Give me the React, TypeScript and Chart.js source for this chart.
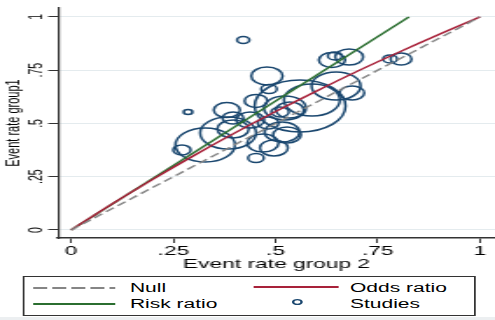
import React, { useEffect, useRef } from "react";
import { Chart, registerables } from "chart.js";

Chart.register(...registerables);

// ---- data ----
const tickValues = [0, 0.25, 0.5, 0.75, 1];
const tickLabels = ["0", ".25", ".5", ".75", "1"];

const nullX = [0, 1];
const nullY = [0, 1];

const oddsX = [0, 0.1, 0.2, 0.3, 0.4, 0.5, 0.6, 0.7, 0.8, 0.9, 1];
const oddsY = [0, 0.122, 0.238, 0.349, 0.455, 0.556, 0.652, 0.745, 0.833, 0.918, 1];

const riskX = [0, 0.826];
const riskY = [0, 1];

const studyX = [0.421, 0.286, 0.271, 0.328, 0.384, 0.381, 0.396, 0.396, 0.452, 0.479, 0.484, 0.638, 0.68, 0.645, 0.78, 0.807, 0.687, 0.648, 0.56, 0.469, 0.496, 0.516, 0.452, 0.523, 0.535, 0.511, 0.438, 0.528, 0.482, 0.589];
const studyY = [0.892, 0.554, 0.376, 0.399, 0.455, 0.563, 0.526, 0.474, 0.338, 0.723, 0.662, 0.798, 0.812, 0.817, 0.803, 0.803, 0.643, 0.676, 0.582, 0.408, 0.385, 0.46, 0.606, 0.573, 0.563, 0.554, 0.516, 0.446, 0.502, 0.61];
const studyWeight = [3.5, 2.5, 5, 17, 16, 7.5, 6, 9, 4.5, 9, 4.5, 7.5, 8, 4, 4, 6, 7, 14, 26, 9, 8, 10, 6.5, 12, 8, 5, 8, 8, 6, 16];

const legendItems = ["Null", "Odds ratio", "Risk ratio", "Studies"];

// ---- style ----
const W = 283;
const H = 320;
const SX = 495 / W;
const FONT = "'Liberation Sans', Arial, Helvetica, sans-serif";
const NAVY = "#1a476f";
const RED = "#a8223a";
const GREEN = "#2b6e30";
const GRAY = "#858585";

const fmt = (v: number) => {
  const i = tickValues.findIndex((t) => Math.abs(t - v) < 1e-9);
  return i >= 0 ? tickLabels[i] : "";
};

export default function App() {
  const ref = useRef<HTMLCanvasElement | null>(null);

  useEffect(() => {
    document.body.style.margin = "0";
    if (!ref.current) return;
    const chart = new Chart(ref.current, {
      type: "scatter",
      data: {
        datasets: [
          {
            type: "line",
            label: legendItems[0],
            data: nullX.map((x, i) => ({ x, y: nullY[i] })),
            borderColor: GRAY,
            borderDash: [6, 3],
            borderWidth: 1.4,
            pointRadius: 0,
            fill: false,
          } as any,
          {
            type: "line",
            label: legendItems[1],
            data: oddsX.map((x, i) => ({ x, y: oddsY[i] })),
            borderColor: RED,
            borderWidth: 1.5,
            pointRadius: 0,
            fill: false,
            tension: 0.3,
          } as any,
          {
            type: "line",
            label: legendItems[2],
            data: riskX.map((x, i) => ({ x, y: riskY[i] })),
            borderColor: GREEN,
            borderWidth: 1.5,
            pointRadius: 0,
            fill: false,
          } as any,
          {
            type: "bubble",
            label: legendItems[3],
            data: studyX.map((x, i) => ({ x, y: studyY[i], r: studyWeight[i] })),
            borderColor: NAVY,
            backgroundColor: "rgba(0,0,0,0)",
            borderWidth: 1.5,
          } as any,
        ],
      },
      options: {
        animation: false,
        responsive: false,
        events: [],
        layout: { autoPadding: false, padding: { left: 0, right: 0, top: 8, bottom: 48.2 } },
        plugins: { legend: { display: false }, tooltip: { enabled: false } },
        scales: {
          x: {
            type: "linear",
            min: -0.0318,
            max: 1.0367,
            afterBuildTicks: (s: any) => {
              s.ticks = tickValues.map((v) => ({ value: v }));
            },
            afterFit: (s: any) => {
              s.height = 33.8;
            },
            ticks: {
              callback: (v: any) => fmt(Number(v)),
              font: { family: FONT, size: 13 },
              color: "#000",
              padding: 1,
              maxRotation: 0,
              autoSkip: false,
            },
            grid: { drawOnChartArea: false, tickLength: 5, tickColor: "#333", tickWidth: 1 },
            border: { color: "#333", width: 1.5 },
            title: {
              display: true,
              text: "Event rate group 2",
              font: { family: FONT, size: 13 },
              color: "#000",
              padding: 0,
            },
          },
          y: {
            type: "linear",
            min: -0.0376,
            max: 1.042,
            afterBuildTicks: (s: any) => {
              s.ticks = tickValues.map((v) => ({ value: v }));
            },
            afterFit: (s: any) => {
              s.width = 33.2;
            },
            ticks: {
              callback: (v: any) => fmt(Number(v)),
              font: { family: FONT, size: 10.5 },
              color: "#000",
              minRotation: 90,
              maxRotation: 90,
              crossAlign: "center",
              padding: -0.6,
              autoSkip: false,
            },
            grid: { color: "#e4ebee", lineWidth: 1, tickColor: "#333", tickLength: 5.7, tickWidth: 1 },
            border: { color: "#333", width: 1.2 },
            title: {
              display: true,
              text: "Event rate group1",
              font: { family: FONT, size: 11 },
              color: "#000",
              padding: { top: 1.2, bottom: 0 },
            },
          },
        },
      },
    });
    return () => chart.destroy();
  }, []);

  const textStyle = (left: number, top: number): React.CSSProperties => ({
    position: "absolute",
    left,
    top,
    fontFamily: FONT,
    fontSize: 12,
    lineHeight: "14px",
    color: "#000",
    whiteSpace: "nowrap",
  });

  return (
    <div
      style={{
        position: "absolute",
        left: 0,
        top: 0,
        width: W,
        height: H,
        background: "#fff",
        transform: `scale(${SX}, 1)`,
        transformOrigin: "0 0",
        overflow: "hidden",
      }}
    >
      <canvas ref={ref} width={W} height={H} style={{ position: "absolute", left: 0, top: 0 }} />
      <div style={{ position: "absolute", left: 0, top: 316.5, width: W, height: 4, background: "#eceff1" }} />
      <div
        style={{
          position: "absolute",
          left: 13.1,
          top: 276,
          width: 258.5,
          height: 39.5,
          border: "1px solid #333",
          boxSizing: "border-box",
          background: "#fff",
        }}
      />
      <svg style={{ position: "absolute", left: 18.9, top: 284.7, overflow: "visible" }} width={46.9} height={6}>
        <line x1={0} y1={3} x2={46.9} y2={3} stroke={GRAY} strokeWidth={1.8} strokeDasharray="8 2.9" />
      </svg>
      <svg style={{ position: "absolute", left: 18.9, top: 301, overflow: "visible" }} width={46.9} height={6}>
        <line x1={0} y1={3} x2={46.9} y2={3} stroke={GREEN} strokeWidth={1.8} />
      </svg>
      <svg style={{ position: "absolute", left: 144.7, top: 283.7, overflow: "visible" }} width={48.6} height={6}>
        <line x1={0} y1={3} x2={48.6} y2={3} stroke={RED} strokeWidth={1.8} />
      </svg>
      <svg style={{ position: "absolute", left: 165.4, top: 297.3, overflow: "visible" }} width={10} height={10}>
        <circle cx={5} cy={5} r={2.4} fill="none" stroke={NAVY} strokeWidth={1.4} />
      </svg>
      <div style={textStyle(74.3, 280.6)}>{legendItems[0]}</div>
      <div style={textStyle(200.1, 280.6)}>{legendItems[1]}</div>
      <div style={textStyle(74.3, 297.1)}>{legendItems[2]}</div>
      <div style={textStyle(200.1, 297.1)}>{legendItems[3]}</div>
    </div>
  );
}
